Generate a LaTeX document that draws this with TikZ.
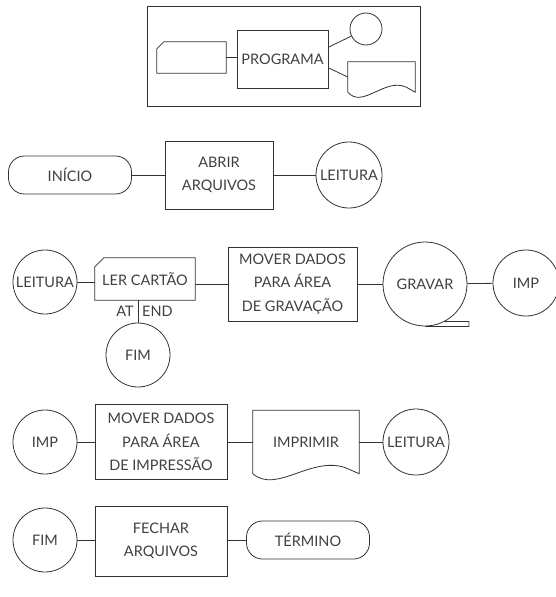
\documentclass[tikz,border=0pt]{standalone}
\usepackage{fontspec}
\setmainfont{Lato}
\usetikzlibrary{positioning,calc,shapes.misc}

% printed-document outline around an undrawn node: #1 node, #2 wave depth
\newcommand{\docoutline}[2]{%
  \draw[wire] (#1.south west) -- (#1.north west) -- (#1.north east) -- (#1.south east)
    -- ($(#1.south east)!0.13!(#1.south west)+(0,-#2)$)
    .. controls ($(#1.south east)!0.45!(#1.south west)+(0,-3*#2)$)
    and ($(#1.south east)!0.78!(#1.south west)+(0,3.4*#2)$) .. (#1.south west);}
% punched-card outline around an undrawn node: #1 node, #2 cut size
\newcommand{\cardoutline}[2]{%
  \draw[wire] (#1.south west) -- ($(#1.north west)+(0,#2)$) -- ($(#1.north west)+(#2,0)$)
    -- (#1.north east) -- (#1.south east) -- cycle;}

\begin{document}
\begin{tikzpicture}[x=1pt, y=-1pt,
    wire/.style={draw=black!80, line width=0.8pt},
    txt/.style={text=black!75, align=center, inner sep=0pt,
      font=\fontsize{14.5}{23.5}\selectfont},
    base/.style={wire, txt},
    circ/.style={base, circle, minimum size=#1},
    term/.style={base, rectangle, rounded corners=16pt,
      minimum width=123, minimum height=38},
    proc/.style={base, rectangle},
    lbl/.style={text=black!75, inner sep=4pt, font=\fontsize{14.5}{16}\selectfont}]
    \useasboundingbox (0,0) rectangle (556,597);

    % Legend frame
    \node[wire, minimum width=273, minimum height=100] (frame) at (283.5,56) {};
    \node[txt, minimum width=69, minimum height=31] (card1) at (191.5,57.5) {};
    \cardoutline{card1}{7}
    \node[proc, minimum width=91, minimum height=58] (prog) at (282.5,59) {PROGRAMA};
    \node[circ=32] (tcirc) at (366,29) {};
    \node[txt, minimum width=67, minimum height=30] (tdoc) at (381.5,77) {};
    \docoutline{tdoc}{5}
    \draw[wire] (card1.east) -- (card1.east -| prog.west);
    \draw[wire] ($(prog.north east)!0.3!(prog.south east)$) -- (tcirc);
    \draw[wire] ($(prog.north east)!0.65!(prog.south east)$) -- ($(tdoc.north west)!0.5!(tdoc.south west)$);

    % Start
    \node[term] (inicio) at (70,175) {INÍCIO};
    \node[proc, minimum width=108, minimum height=68] (abrir) at (219,175) {ABRIR\\ARQUIVOS};
    \node[circ=66] (leit1) at (349,175) {LEITURA};
    \draw[wire] (inicio) -- (abrir);
    \draw[wire] (abrir) -- (leit1);

    % Read and record
    \node[circ=64] (leit2) at (45,282) {LEITURA};
    \node[txt, minimum width=100, minimum height=42] (cartao) at (145,279) {LER CARTÃO};
    \cardoutline{cartao}{9}
    \node[proc, minimum width=129, minimum height=74] (mov1) at (292.5,284) {MOVER DADOS\\PARA ÁREA\\DE GRAVAÇÃO};
    \node[circ=84] (grav) at (425,284) {GRAVAR};
    \node[circ=66] (imp1) at (526,283) {IMP};
    \node[circ=64] (fim1) at (138,355) {FIM};
    \draw[wire] (leit2) -- (leit2 -| cartao.west);
    \draw[wire] (cartao.east |- mov1) -- (mov1);
    \draw[wire] (mov1) -- (grav);
    \draw[wire] (grav) -- (imp1);
    \draw[wire] (grav.south) -- ++(44,0) -- ++(0,-5) -- (grav.-62);
    \draw[wire] (cartao.south -| fim1.north) -- (fim1.north);
    \coordinate (atend) at ($(cartao.south -| fim1.north)!0.5!(fim1.north)$);
    \node[lbl, anchor=east] (lblat) at (atend) {AT};
    \node[lbl, anchor=west] (lblend) at (atend) {END};

    % Print
    \node[circ=64] (imp2) at (45,442) {IMP};
    \node[proc, minimum width=132, minimum height=75] (mov2) at (161,442) {MOVER DADOS\\PARA ÁREA\\DE IMPRESSÃO};
    \node[txt, minimum width=106, minimum height=63] (prt) at (306,442) {IMPRIMIR};
    \node[circ=66] (leit3) at (416,442) {LEITURA};
    \docoutline{prt}{6}
    \draw[wire] (imp2) -- (mov2);
    \draw[wire] (mov2) -- (prt.west);
    \draw[wire] (prt.east) -- (leit3);

    % End
    \node[circ=64] (fim2) at (45,540) {FIM};
    \node[proc, minimum width=132, minimum height=70] (fechar) at (161,541) {FECHAR\\ARQUIVOS};
    \node[term] (termino) at (308,540) {TÉRMINO};
    \draw[wire] (fim2) -- (fim2 -| fechar.west);
    \draw[wire] (fechar.east |- termino) -- (termino);
\end{tikzpicture}
\end{document}
